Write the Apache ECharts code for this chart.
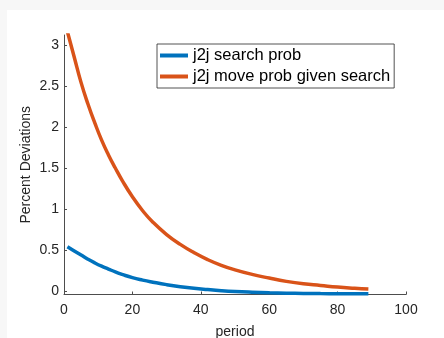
<!DOCTYPE html>
<html lang="en">
<head>
    <meta http-equiv="content-type" content="text/html; charset=utf-8" />
    <script type="text/javascript" src="https://cdn.jsdelivr.net/npm/echarts@6/dist/echarts.min.js"></script>
    <title>j2j</title>
    <style>
        html, body { margin: 0; padding: 0; background: #f7f7f7; }
        #paper { position: absolute; left: 7px; top: 10px; width: 437px; height: 328px; background: #fff; }
        #chart { position: absolute; left: 0; top: 0; width: 444px; height: 338px; }
    </style>
</head>
<body>
<div id="paper"></div>
<div id="chart"></div>
<script type="text/javascript">
    // periods
    var periods = [1, 3, 5, 7, 9, 11, 13, 15, 17, 20, 23, 26, 30, 34, 38, 42, 46, 50, 55, 60, 65, 70, 75, 80, 85, 89];
    var searchProb = [0.54, 0.49, 0.44, 0.39, 0.345, 0.305, 0.27, 0.235, 0.205, 0.165, 0.135, 0.11, 0.08, 0.055, 0.035, 0.02, 0.007, -0.003, -0.012, -0.019, -0.024, -0.027, -0.029, -0.03, -0.031, -0.031];
    var moveProb = [3.16, 2.85, 2.54, 2.28, 2.05, 1.84, 1.66, 1.50, 1.35, 1.15, 0.98, 0.84, 0.69, 0.57, 0.47, 0.385, 0.315, 0.26, 0.205, 0.16, 0.12, 0.09, 0.07, 0.05, 0.036, 0.027];
    var yTicks = [0, 0.5, 1, 1.5, 2, 2.5, 3];
    var seriesNames = ['j2j search prob', 'j2j move prob given search'];

    function pairs(xs, ys) {
        var out = [];
        for (var i = 0; i < xs.length; i++) {
            out.push([xs[i], ys[i]]);
        }
        return out;
    }

    var font = "'Liberation Sans', Arial, Helvetica, sans-serif";
    var axisCol = '#4d4d4d';
    var textCol = '#262626';

    var chart = echarts.init(document.getElementById('chart'), null, {renderer: 'canvas'});
    chart.setOption({
        animation: false,
        backgroundColor: 'transparent',
        textStyle: {fontFamily: font},
        // keep the plot box fixed, do not let v6 shrink it round the labels
        grid: {left: 64, right: 38, top: 35, bottom: 43.5, containLabel: false, outerBoundsMode: 'none'},
        legend: {
            orient: 'vertical',
            left: 157,
            top: 44,
            padding: [3, 4, 3, 3],
            itemGap: 4,
            itemWidth: 28,
            itemHeight: 4,
            icon: 'rect',
            borderColor: textCol,
            borderWidth: 0.8,
            backgroundColor: '#fff',
            textStyle: {fontSize: 16.5, color: '#000', fontFamily: font},
            data: seriesNames
        },
        xAxis: {
            type: 'value',
            min: 0,
            max: 100,
            interval: 20,
            name: 'period',
            nameLocation: 'middle',
            nameGap: 31,
            nameMoveOverlap: false,
            nameTextStyle: {fontSize: 14, color: textCol, fontFamily: font},
            axisLine: {onZero: false, lineStyle: {color: axisCol, width: 1}},
            axisTick: {inside: true, length: 3, lineStyle: {color: axisCol}},
            axisLabel: {fontSize: 14, color: textCol, margin: 9, fontFamily: font},
            splitLine: {show: false}
        },
        yAxis: {
            type: 'value',
            min: -0.04,
            max: 3.12,
            name: 'Percent Deviations',
            nameLocation: 'middle',
            nameGap: 31,
            nameMoveOverlap: false,
            nameTextStyle: {fontSize: 14, color: textCol, fontFamily: font},
            axisLine: {show: true, onZero: false, lineStyle: {color: axisCol, width: 1}},
            axisTick: {show: true, inside: true, length: 3, customValues: yTicks, lineStyle: {color: axisCol}},
            axisLabel: {fontSize: 14, color: textCol, margin: 5, customValues: yTicks, fontFamily: font},
            splitLine: {show: false}
        },
        series: [
            {
                name: seriesNames[0],
                type: 'line',
                smooth: true,
                showSymbol: false,
                color: '#0072BD',
                lineStyle: {width: 3.5, color: '#0072BD'},
                data: pairs(periods, searchProb)
            },
            {
                name: seriesNames[1],
                type: 'line',
                smooth: true,
                showSymbol: false,
                color: '#D95319',
                lineStyle: {width: 3.5, color: '#D95319'},
                data: pairs(periods, moveProb)
            }
        ]
    });
</script>
</body>
</html>
